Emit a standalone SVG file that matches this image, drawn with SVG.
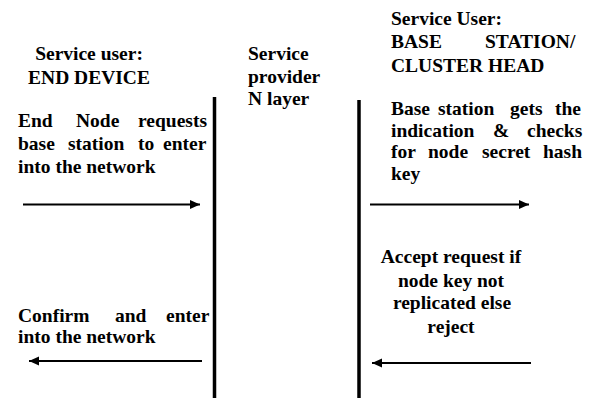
<svg xmlns="http://www.w3.org/2000/svg" width="594" height="399" viewBox="0 0 594 399">
<defs>
<style>
text{font-family:"Liberation Serif","Times New Roman",serif;font-weight:bold;font-size:19.5px;fill:#000}
.mid{text-anchor:middle}
.life{stroke:#000;stroke-width:3.5;fill:none}
.msg{stroke:#000;stroke-width:2;fill:none}
</style>
<marker id="ah" markerUnits="userSpaceOnUse" markerWidth="11" markerHeight="10" refX="10" refY="4.5" orient="auto">
<path d="M0,0 L10,4.5 L0,9 Z" fill="#000"/>
</marker>
</defs>
<rect width="594" height="399" fill="#fff"/>
<g id="end-device">
<text class="mid" x="89" y="60">Service user:</text>
<text class="mid" x="89" y="84">END DEVICE</text>
</g>
<g id="service-provider">
<text x="248" y="60">Service</text>
<text x="248" y="82.5">provider</text>
<text x="248" y="105">N layer</text>
</g>
<g id="base-station">
<text x="391" y="25">Service User:</text>
<text y="48"><tspan x="391">BASE</tspan><tspan x="485">STATION/</tspan></text>
<text x="391" y="72">CLUSTER HEAD</text>
</g>
<g id="lifelines">
<line class="life" x1="214.5" y1="97" x2="214.5" y2="398"/>
<line class="life" x1="359" y1="100" x2="359" y2="398"/>
</g>
<g id="note-request">
<text y="127"><tspan x="18">End</tspan><tspan x="76">Node</tspan><tspan x="138">requests</tspan></text>
<text y="150"><tspan x="18">base</tspan><tspan x="68">station</tspan><tspan x="138">to</tspan><tspan x="163">enter</tspan></text>
<text x="18" y="173">into the network</text>
</g>
<g id="note-check">
<text y="115"><tspan x="391">Base</tspan><tspan x="438">station</tspan><tspan x="510">gets</tspan><tspan x="555">the</tspan></text>
<text y="136.5"><tspan x="391">indication</tspan><tspan x="493">&amp;</tspan><tspan x="527">checks</tspan></text>
<text y="158"><tspan x="391">for</tspan><tspan x="428">node</tspan><tspan x="482">secret</tspan><tspan x="543">hash</tspan></text>
<text x="391" y="179.5">key</text>
</g>
<g id="note-accept">
<text class="mid" x="451" y="263">Accept request if</text>
<text class="mid" x="451" y="287">node key not</text>
<text class="mid" x="452" y="309">replicated else</text>
<text class="mid" x="451" y="333">reject</text>
</g>
<g id="note-confirm">
<text y="322"><tspan x="18">Confirm</tspan><tspan x="115">and</tspan><tspan x="166">enter</tspan></text>
<text x="18" y="343">into the network</text>
</g>
<g id="connectors">
<line class="msg" x1="23" y1="204.5" x2="200" y2="204.5" marker-end="url(#ah)"/>
<line class="msg" x1="370" y1="204.5" x2="529" y2="204.5" marker-end="url(#ah)"/>
<line class="msg" x1="202" y1="361" x2="29" y2="361" marker-end="url(#ah)"/>
<line class="msg" x1="531" y1="363" x2="372" y2="363" marker-end="url(#ah)"/>
</g>
</svg>
